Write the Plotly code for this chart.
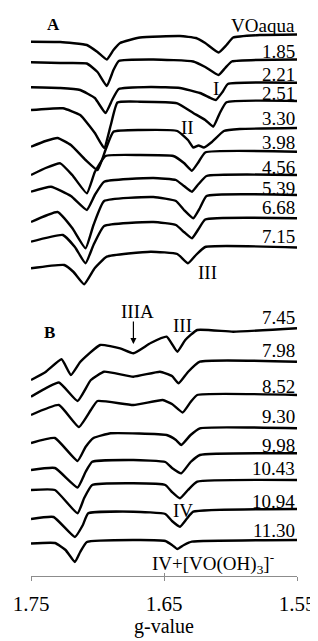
import plotly.graph_objects as go

# ---------------- data ----------------
labels = ["VOaqua", "1.85", "2.21", "2.51", "3.30", "3.98", "4.56", "5.39", "6.68", "7.15",
          "7.45", "7.98", "8.52", "9.30", "9.98", "10.43", "10.94", "11.30"]

# vertical stacking offsets of each spectrum (arbitrary units)
stack_offset = [-34.5, -59.5, -82.7, -101, -128, -151.7, -175, -195, -218.3, -247.5,
                -328.3, -361.7, -395, -428.3, -453.3, -480, -509, -540]

g_0 = [1.750, 1.728, 1.708, 1.700, 1.693, 1.688, 1.683, 1.668, 1.638, 1.626, 1.619, 1.609, 1.603, 1.598, 1.578, 1.550]
i_0 = [-7.2, -7.5, -10.5, -17.5, -25, -15.5, -8.5, -3, -1.5, -3.5, -8.5, -18, -10.5, -3, -0.5, 0]

g_1 = [1.750, 1.728, 1.708, 1.700, 1.693, 1.688, 1.684, 1.658, 1.628, 1.619, 1.609, 1.604, 1.599, 1.550]
i_1 = [-2.8, -3.5, -4, -12.5, -26.5, -10.5, -1.5, 0, -2, -7.5, -15.5, -8.5, -2, 0]

g_2 = [1.750, 1.728, 1.713, 1.702, 1.694, 1.689, 1.684, 1.660, 1.638, 1.623, 1.615, 1.611, 1.606, 1.602, 1.550]
i_2 = [-4.6, -5.3, -7.3, -15.3, -30.3, -17.3, -6.3, -4.3, -5.3, -10.3, -15.3, -17.3, -9.3, -1.3, 0]

g_3 = [1.750, 1.726, 1.713, 1.702, 1.695, 1.690, 1.685, 1.668, 1.640, 1.628, 1.619, 1.613, 1.608, 1.603, 1.550]
i_3 = [-9, -7.3, -14, -32, -47, -24, -1.5, -0.7, -2.3, -12, -19, -25.7, -12, -1.3, 0]

g_4 = [1.750, 1.739, 1.730, 1.720, 1.709, 1.700, 1.694, 1.688, 1.668, 1.640, 1.632, 1.628, 1.624, 1.620, 1.614, 1.605, 1.593, 1.550]
i_4 = [-18.7, -13, -10, -17, -32, -42, -22, -3.7, -2, -3, -12, -19.5, -17.5, -19.5, -14, -3, -1, 0]

g_5 = [1.750, 1.739, 1.728, 1.719, 1.708, 1.702, 1.694, 1.668, 1.643, 1.635, 1.629, 1.624, 1.619, 1.550]
i_5 = [-23.3, -16.3, -11.6, -23.3, -41.6, -20.3, -4.3, -3.3, -4.3, -11.3, -19, -10.3, -0.8, 0]

g_6 = [1.750, 1.735, 1.720, 1.708, 1.702, 1.695, 1.658, 1.641, 1.635, 1.629, 1.624, 1.618, 1.550]
i_6 = [-16.7, -11.7, -21, -35, -20, -6.7, -3, -5, -11, -16.7, -9, -1, 0]

g_7 = [1.750, 1.730, 1.719, 1.709, 1.703, 1.695, 1.658, 1.641, 1.635, 1.628, 1.623, 1.618, 1.550]
i_7 = [-27, -17, -33, -53.3, -30, -6, -2, -6, -15, -23.3, -13, -1, 0]

g_8 = [1.750, 1.726, 1.717, 1.709, 1.703, 1.695, 1.658, 1.641, 1.635, 1.629, 1.624, 1.619, 1.550]
i_8 = [-23.4, -16.7, -28.7, -45, -26.7, -7.7, -3.7, -6.7, -13.7, -20, -10.7, -1.2, 0]

g_9 = [1.750, 1.725, 1.718, 1.710, 1.702, 1.693, 1.660, 1.640, 1.632, 1.626, 1.619, 1.550]
i_9 = [-20.8, -17.5, -24.5, -36.8, -20.5, -9.2, -4.2, -6.5, -15.8, -7.5, 0.5, 0]

g_10 = [1.750, 1.739, 1.727, 1.720, 1.713, 1.698, 1.683, 1.673, 1.660, 1.648, 1.640, 1.634, 1.625, 1.598, 1.550]
i_10 = [-51.7, -43.7, -31, -46.7, -33.7, -16.7, -20, -25, -14.7, -8.4, -23.4, -11.7, -1.7, -3.4, 0]

g_11 = [1.750, 1.729, 1.715, 1.705, 1.695, 1.673, 1.653, 1.644, 1.639, 1.632, 1.623, 1.550]
i_11 = [-35, -20.8, -39.3, -18.3, -10, -15, -10, -14.3, -21.6, -10.3, 0, 0]

g_12 = [1.750, 1.729, 1.714, 1.705, 1.700, 1.673, 1.651, 1.644, 1.636, 1.630, 1.625, 1.550]
i_12 = [-20, -10, -32, -15, -6, -10, -5, -9, -17.5, -7, 0, 0]

g_13 = [1.750, 1.732, 1.715, 1.709, 1.703, 1.690, 1.648, 1.641, 1.637, 1.630, 1.623, 1.550]
i_13 = [-14.7, -9.7, -32.7, -18.7, -9.7, -5, -6.7, -11.7, -16.7, -6.7, 0, 0]

g_14 = [1.750, 1.732, 1.715, 1.709, 1.704, 1.673, 1.649, 1.644, 1.637, 1.630, 1.623, 1.550]
i_14 = [-16.7, -14.7, -34.2, -18.7, -8.4, -6.7, -8.7, -14.7, -20, -8.7, -1.7, 0]

g_15 = [1.750, 1.732, 1.715, 1.710, 1.704, 1.673, 1.649, 1.644, 1.638, 1.632, 1.625, 1.550]
i_15 = [-10, -10, -33.3, -18, -5, -3.3, -5, -12, -18.3, -10, -1.7, 0]

g_16 = [1.750, 1.733, 1.717, 1.711, 1.707, 1.673, 1.649, 1.644, 1.638, 1.633, 1.628, 1.550]
i_16 = [-10, -8, -28, -16, -4.3, -2.7, -5, -12, -17.7, -10, -2.7, 0]

g_17 = [1.750, 1.732, 1.724, 1.717, 1.713, 1.708, 1.673, 1.649, 1.644, 1.640, 1.635, 1.629, 1.550]
i_17 = [-3.5, -3, -10, -22, -12, -2, 0, -1, -5, -9, -5, -1.7, 0]

g_series = [g_0, g_1, g_2, g_3, g_4, g_5, g_6, g_7, g_8, g_9,
            g_10, g_11, g_12, g_13, g_14, g_15, g_16, g_17]
i_series = [i_0, i_1, i_2, i_3, i_4, i_5, i_6, i_7, i_8, i_9,
            i_10, i_11, i_12, i_13, i_14, i_15, i_16, i_17]

tick_vals = [1.75, 1.65, 1.55]
tick_text = ["1.75", "1.65", "1.55"]

# ---------------- figure ----------------
SERIF = "Liberation Serif, Times New Roman, serif"
label_gap = [9.5, 8.5, 8.7, 8, 10, 9.7, 8, 7, 11.3, 11.5,
             11.3, 11.7, 9, 12.3, 8.3, 12, 8, 10]

fig = go.Figure()
for g, inten, off in zip(g_series, i_series, stack_offset):
    fig.add_trace(go.Scatter(
        x=g, y=[off + v for v in inten], mode="lines",
        line=dict(color="black", width=2.4, shape="spline", smoothing=0.4),
        hoverinfo="skip", showlegend=False, cliponaxis=False))

# invisible helper trace on the overlay axis (for the inner half of the tick marks)
fig.add_trace(go.Scatter(x=[1.75], y=[-576], xaxis="x2", mode="markers",
                         marker=dict(opacity=0), hoverinfo="skip", showlegend=False))

ann = []
for lab, off, gap in zip(labels, stack_offset, label_gap):
    ann.append(dict(x=1.55, y=off + gap, text=lab, xanchor="right", yanchor="middle",
                    showarrow=False, font=dict(family=SERIF, size=19, color="black")))

def txt(x, y, t, size=19, bold=False):
    return dict(x=x, y=y, text=("<b>%s</b>" % t) if bold else t, showarrow=False,
                xanchor="center", yanchor="middle",
                font=dict(family=SERIF, size=size, color="black"))

ann += [
    txt(1.733, -24, "A", 17, True),
    txt(1.736, -332, "B", 17, True),
    txt(1.611, -88, "I"),
    txt(1.632, -127, "II"),
    txt(1.617, -272, "III"),
    txt(1.670, -311, "IIIA"),
    txt(1.636, -325, "III"),
    txt(1.636, -510, "IV"),
    txt(1.613, -563, "IV+[VO(OH)<sub>3</sub>]<sup>-</sup>"),
    dict(x=1.673, y=-344, ax=1.673, ay=-320, axref="x", ayref="y", xref="x", yref="y",
         text="", showarrow=True, arrowhead=2, arrowsize=1, arrowwidth=1.2,
         arrowcolor="black"),
    dict(x=0.5, y=-64 / 568, xref="paper", yref="paper", text="g-value",
         showarrow=False, xanchor="center", yanchor="bottom",
         font=dict(family=SERIF, size=20, color="black")),
]

# the page body adds an 8 px margin, so the figure is 8 px smaller on each side
fig.update_layout(
    width=310, height=633,
    margin=dict(l=23, r=21, t=0, b=65, autoexpand=False),
    paper_bgcolor="white", plot_bgcolor="white",
    annotations=ann,
    xaxis=dict(range=[1.75, 1.55], showgrid=False, zeroline=False, automargin=False,
               showline=True, linecolor="#8c8c8c", linewidth=1,
               ticks="outside", ticklen=4, tickcolor="#8c8c8c",
               tickvals=tick_vals, ticktext=tick_text,
               tickfont=dict(family=SERIF, size=21, color="black"),
               ticklabelstandoff=5),
    xaxis2=dict(range=[1.75, 1.55], overlaying="x", anchor="y", side="bottom",
                showgrid=False, zeroline=False, showline=False, automargin=False,
                ticks="inside", ticklen=3, tickcolor="#8c8c8c",
                tickvals=tick_vals, showticklabels=False),
    yaxis=dict(range=[-576, -8], visible=False, showgrid=False, zeroline=False,
               automargin=False),
)

fig.write_html("out.html")
